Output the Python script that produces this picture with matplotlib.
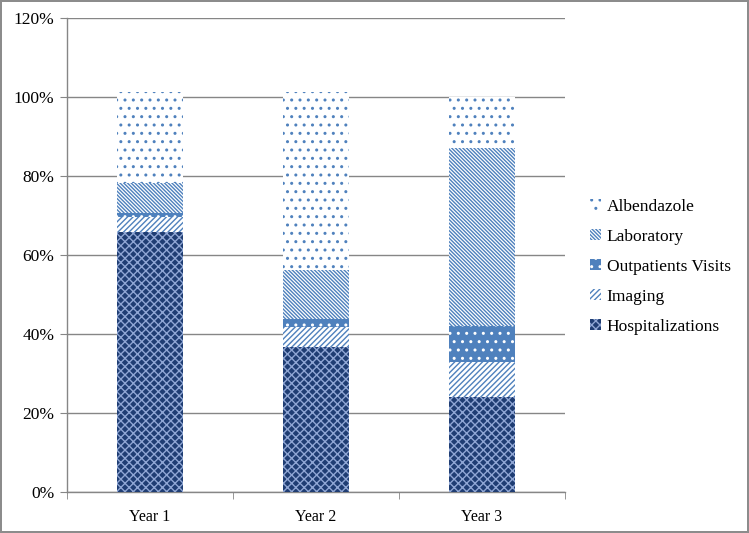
import numpy as np
import matplotlib
matplotlib.use("Agg")
import matplotlib.pyplot as plt
from matplotlib.ticker import PercentFormatter

plt.rcParams['font.family'] = ['Liberation Serif', 'DejaVu Serif']
plt.rcParams['hatch.linewidth'] = 1.0

# data (share of total cost, %)
years = ['Year 1', 'Year 2', 'Year 3']
hospitalizations = [65.8, 36.7, 24.0]
imaging = [3.8, 5.1, 8.9]
outpatients = [1.0, 2.0, 9.1]
laboratory = [7.6, 12.4, 45.1]
albendazole = [23.1, 45.1, 12.9]

series = [
    ('Hospitalizations', hospitalizations, '#1F3D73', '#8FA6D4', 'xxxx'),
    ('Imaging', imaging, 'white', '#4F81BD', '//////'),
    ('Outpatients Visits', outpatients, '#4F81BD', 'white', '..'),
    ('Laboratory', laboratory, 'white', '#4F81BD', '\\' * 9),
    ('Albendazole', albendazole, 'white', '#4F81BD', '..'),
]

fig = plt.figure(figsize=(7.49, 5.33), dpi=100)
fig.patch.set_edgecolor('#8C8C8C')
fig.patch.set_linewidth(1.5)
ax = fig.add_axes([0.0895, 0.077, 0.6645, 0.889])

x = np.arange(len(years))
bottom = np.zeros(len(years))
handles = []
for name, vals, fc, hc, hatch in series:
    b = ax.bar(x, vals, width=0.4, bottom=bottom, color=fc, edgecolor=hc,
               hatch=hatch, linewidth=0, zorder=3, label=name)
    bottom += np.array(vals)
    handles.append(b)

ax.set_xlim(-0.5, 2.5)
ax.set_ylim(0, 120)
ax.set_yticks(np.arange(0, 121, 20))
ax.yaxis.set_major_formatter(PercentFormatter(decimals=0))
ax.set_xticks(x)
ax.set_xticklabels(years)
ax.set_xticks([-0.5, 0.5, 1.5, 2.5], minor=True)
ax.tick_params(axis='x', which='major', length=0, pad=12, labelsize=11.5)
ax.tick_params(axis='x', which='minor', length=5, color='#868686')
ax.tick_params(axis='y', length=5, color='#868686', labelsize=12.5, pad=4)

ax.grid(axis='y', color='#868686', linewidth=1, zorder=0)
for s in ['top', 'right']:
    ax.spines[s].set_visible(False)
for s in ['left', 'bottom']:
    ax.spines[s].set_color('#868686')
    ax.spines[s].set_linewidth(1)

leg = ax.legend(handles=handles[::-1], loc='center left', bbox_to_anchor=(1.02, 0.475),
                frameon=False, fontsize=12.5, handlelength=0.6, handleheight=0.6,
                handletextpad=0.35, labelspacing=0.8)

fig.savefig('out.png', dpi=100)
